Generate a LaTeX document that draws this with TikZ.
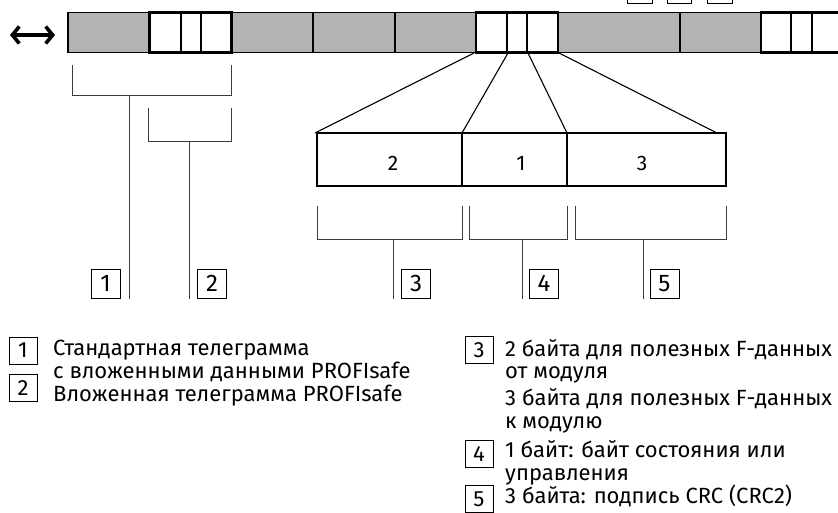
\documentclass[tikz,border=0pt]{standalone}
\usepackage{fontspec}
\setmainfont{Fira Sans}
\usetikzlibrary{arrows.meta}
\definecolor{barGray}{RGB}{179,179,179}
\definecolor{lineGray}{RGB}{60,60,60}
\begin{document}
\begin{tikzpicture}[x=1pt,y=-1pt,
  cell/.style={draw=black, fill=barGray, line width=1.2pt},
  fbox/.style={draw=black, fill=white, line width=2.8pt},
  fdiv/.style={draw=black, line width=1.1pt},
  brk/.style={draw=lineGray, line width=0.9pt},
  feed/.style={draw=black, line width=1.1pt},
  numbox/.style={draw=black, line width=0.9pt, minimum width=29pt, minimum height=29pt,
    inner sep=0pt, font=\fontsize{24}{26}\selectfont},
  legbox/.style={draw=black, line width=0.9pt, minimum width=28pt, minimum height=27pt,
    inner sep=0pt, font=\fontsize{22}{24}\selectfont},
  legtext/.style={anchor=base west, inner sep=0pt, font=\fontsize{22}{24}\selectfont},
  cellnum/.style={inner sep=0pt, font=\fontsize{21}{23}\selectfont},
  barb/.tip={Straight Barb[length=7pt,width=17pt,line width=3.6pt]}]
\useasboundingbox (0,0) rectangle (838,512);

% remains of the caption line above the bar (cut by the page edge)
\foreach \xa/\xb in {627/652, 667/691, 707/732}
  \draw[line width=0.9pt] (\xa,-20) rectangle (\xb,3.5);

% direction arrow
\coordinate (arrL) at (10,35);
\coordinate (arrR) at (55,35);
\draw[line width=3.8pt, barb-barb] (arrL) -- (arrR);

% telegram bar: grey data cells
\foreach \xa/\xb in {68/149.5, 231.5/313, 313/395, 395/476, 558/680, 680/761}
  \draw[cell] (\xa,12.5) rectangle (\xb,52.5);

% embedded PROFIsafe blocks
\draw[fbox] (149.5,12.5) rectangle (231.5,52.5);
\draw[fdiv] (181,12.5) -- (181,52.5) (201,12.5) -- (201,52.5);
\draw[fbox] (476,12.5) rectangle (558,52.5);
\draw[fdiv] (507,12.5) -- (507,52.5) (527,12.5) -- (527,52.5);
\draw[fbox] (761,12.5) rectangle (850,52.5);
\draw[fdiv] (791,12.5) -- (791,52.5) (812,12.5) -- (812,52.5);

% corners of the middle block
\coordinate (s0) at (474,53);
\coordinate (s1) at (508,53);
\coordinate (s2) at (528,53);
\coordinate (s3) at (559,53);

% expanded PROFIsafe frame
\draw[fbox] (317,133) rectangle (726,186);
\draw[fdiv] (462,133) -- (462,186) (567,133) -- (567,186);
\node[cellnum] (c2) at (393,163) {2};
\node[cellnum] (c1) at (521,163) {1};
\node[cellnum] (c3) at (642,163) {3};
\coordinate (e0) at (315,133);
\coordinate (e1) at (462,133);
\coordinate (e2) at (567,133);
\coordinate (e3) at (717,133);
\draw[feed] (s0) -- (e0);
\draw[feed] (s1) -- (e1);
\draw[feed] (s2) -- (e2);
\draw[feed] (s3) -- (e3);

% brackets under the bar
\draw[brk] (72,65) -- (72,95) -- (231,95) -- (231,65);
\draw[brk] (129,95) -- (129,299);
\draw[brk] (148,108) -- (148,141) -- (231,141) -- (231,108);
\draw[brk] (189,141) -- (189,299);

% brackets under the expanded frame
\draw[brk] (317,206) -- (317,239) -- (462,239) -- (462,206);
\draw[brk] (393,239) -- (393,299);
\draw[brk] (469,206) -- (469,239) -- (567,239) -- (567,206);
\draw[brk] (522,239) -- (522,299);
\draw[brk] (575,206) -- (575,239) -- (726,239) -- (726,206);
\draw[brk] (643,239) -- (643,299);

% callout numbers
\node[numbox] (n1) at (105.5,283.5) {1};
\node[numbox] (n2) at (212,283.5) {2};
\node[numbox] (n3) at (416,283.5) {3};
\node[numbox] (n4) at (544,283.5) {4};
\node[numbox] (n5) at (664.5,283.5) {5};

% legend, left column
\node[legbox] (l1) at (23,350.5) {1};
\node[legtext] (t1a) at (53,355) {Стандартная телеграмма};
\node[legtext] (t1b) at (53,378.5) {с вложенными данными PROFIsafe};
\node[legbox] (l2) at (23,388) {2};
\node[legtext] (t2) at (53,401) {Вложенная телеграмма PROFIsafe};

% legend, right column
\node[legbox] (l3) at (479,350) {3};
\node[legtext] (t3a) at (505,356) {2 байта для полезных F-данных};
\node[legtext] (t3b) at (505,378.5) {от модуля};
\node[legtext] (t3c) at (505,405) {3 байта для полезных F-данных};
\node[legtext] (t3d) at (505,428) {к модулю};
\node[legbox] (l4) at (479,454) {4};
\node[legtext] (t4a) at (505,457) {1 байт: байт состояния или};
\node[legtext] (t4b) at (505,480) {управления};
\node[legbox] (l5) at (479,499) {5};
\node[legtext] (t5) at (505,503) {3 байта: подпись CRC (CRC2)};
\end{tikzpicture}
\end{document}
